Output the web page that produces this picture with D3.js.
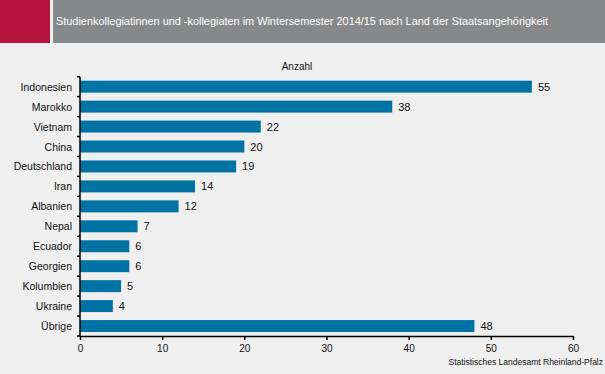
<!DOCTYPE html>
<html lang="de">
  <head>
    <meta charset="utf-8">
    <title>Studienkollegiaten</title>
    <script src="https://d3js.org/d3.v7.min.js"></script>
    <style>
      body { margin: 0; background: #eeefee; }
      text { font-family: "Liberation Sans", Arial, sans-serif; }
    </style>
  </head>
  <body>
    <div id="chart"></div>
    <script type="text/javascript">
      const countries = ['Indonesien','Marokko','Vietnam','China','Deutschland','Iran','Albanien',
                         'Nepal','Ecuador','Georgien','Kolumbien','Ukraine','Übrige'];
      const counts = [55, 38, 22, 20, 19, 14, 12, 7, 6, 6, 5, 4, 48];
      const xTicks = [0, 10, 20, 30, 40, 50, 60];

      const W = 605, H = 374;
      const svg = d3.select('#chart').append('svg')
        .attr('width', W).attr('height', H);

      svg.append('rect').attr('width', W).attr('height', H).attr('fill', '#eeefee');

      // header
      svg.append('rect').attr('x', 0).attr('y', 0).attr('width', 50).attr('height', 43).attr('fill', '#b5123e');
      svg.append('rect').attr('x', 53).attr('y', 0).attr('width', W - 53).attr('height', 43).attr('fill', '#878889');
      svg.append('text').attr('x', 56).attr('y', 25)
        .attr('font-size', 11).attr('fill', '#ffffff')
        .attr('textLength', 492).attr('lengthAdjust', 'spacingAndGlyphs')
        .text('Studienkollegiatinnen und -kollegiaten im Wintersemester 2014/15 nach Land der Staatsangehörigkeit');

      let x = d3.scaleLinear().domain([0, 60]).range([80, 573]);
      let y = d3.scaleBand().domain(countries).range([76.7, 336]).paddingInner(0.4).paddingOuter(0.2);

      svg.append('text').attr('x', 297).attr('y', 70).attr('text-anchor', 'middle')
        .attr('font-size', 10).attr('fill', '#111').text('Anzahl');

      svg.selectAll('rect.bar')
        .data(countries)
        .enter().append('rect')
        .attr('class', 'bar')
        .attr('x', x(0))
        .attr('y', d => y(d))
        .attr('width', (d, i) => x(counts[i]) - x(0))
        .attr('height', y.bandwidth())
        .attr('fill', '#0072a3');

      svg.selectAll('text.val')
        .data(countries)
        .enter().append('text')
        .attr('class', 'val')
        .attr('x', (d, i) => x(counts[i]) + 6)
        .attr('y', d => y(d) + y.bandwidth() / 2 + 4)
        .attr('font-size', 11).attr('fill', '#111')
        .text((d, i) => counts[i]);

      // y axis: ticks between categories
      const yAxis = svg.append('g');
      yAxis.append('line').attr('x1', 80).attr('x2', 80).attr('y1', 76.7).attr('y2', 336)
        .attr('stroke', '#000').attr('stroke-width', 1.5);
      yAxis.selectAll('line.tk')
        .data(d3.range(countries.length + 1))
        .enter().append('line')
        .attr('class', 'tk')
        .attr('x1', 77).attr('x2', 80)
        .attr('y1', i => 76.7 + i * (336 - 76.7) / countries.length)
        .attr('y2', i => 76.7 + i * (336 - 76.7) / countries.length)
        .attr('stroke', '#000').attr('stroke-width', 1.5);
      yAxis.selectAll('text')
        .data(countries)
        .enter().append('text')
        .attr('x', 72)
        .attr('y', d => y(d) + y.bandwidth() / 2 + 4)
        .attr('text-anchor', 'end')
        .attr('font-size', 10.5).attr('fill', '#111')
        .text(d => d);

      // x axis
      const xAxis = svg.append('g').attr('transform', 'translate(0,336)')
        .call(d3.axisBottom(x).tickValues(xTicks).tickSize(4).tickSizeOuter(0));
      xAxis.select('.domain').attr('stroke', '#000').attr('stroke-width', 1.5);
      xAxis.selectAll('.tick line').attr('stroke', '#000').attr('stroke-width', 1.5);
      xAxis.selectAll('.tick text').attr('font-size', 10).attr('fill', '#111')
        .attr('font-family', '"Liberation Sans", Arial, sans-serif').attr('dy', '0.9em');

      svg.append('text').attr('x', 603).attr('y', 365).attr('text-anchor', 'end')
        .attr('font-size', 8.5).attr('fill', '#111')
        .text('Statistisches Landesamt Rheinland-Pfalz');
    </script>
  </body>
</html>
